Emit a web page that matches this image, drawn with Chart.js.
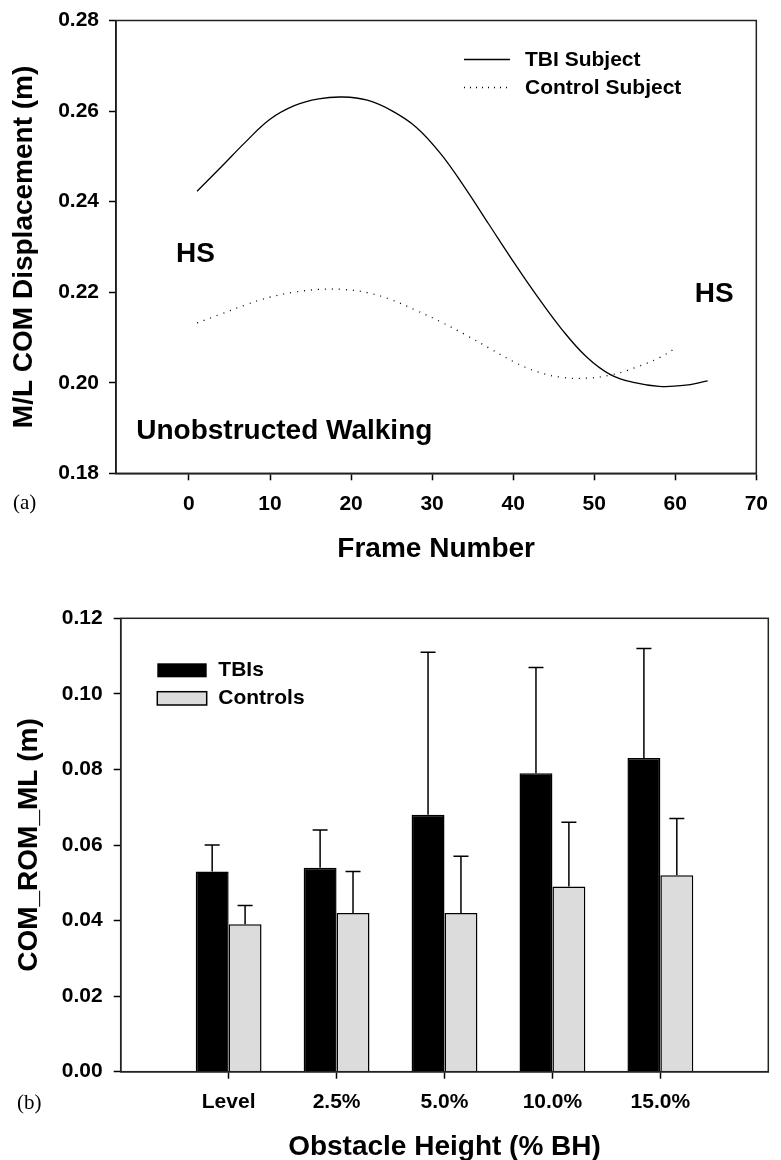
<!DOCTYPE html>
<html>
<head>
<meta charset="utf-8">
<script src="https://cdn.jsdelivr.net/npm/chart.js@4.4.1/dist/chart.umd.min.js"></script>
<style>
  body { margin: 0; background: #fff; }
  .panel { position: relative; width: 781px; height: 580px; }
</style>
</head>
<body>
<div class="panel"><canvas id="comLine"></canvas></div>
<div class="panel"><canvas id="romBars"></canvas></div>
<script>
// (a) M/L COM displacement through one stride, heel strike to heel strike
const tbiFrames = [1, 4, 7, 10, 13, 16, 19, 22, 25, 28, 31, 34, 37, 40, 43, 46, 49, 52, 55, 58, 61, 64];
const tbiDisp = [0.2423, 0.2477, 0.2532, 0.2582, 0.2612, 0.2627, 0.2631, 0.2624, 0.2601, 0.2565, 0.2507,
                 0.2432, 0.2350, 0.2268, 0.2190, 0.2118, 0.2058, 0.2018, 0.2000, 0.1992, 0.1994, 0.2004];
const controlFrames = [1, 4, 7, 10, 13, 16, 19, 22, 25, 28, 31, 34, 37, 40, 43, 46, 49, 52, 55, 58, 60];
const controlDisp = [0.2132, 0.2152, 0.2172, 0.2189, 0.2200, 0.2206, 0.2206, 0.2199, 0.2183, 0.2160, 0.2135,
                     0.2107, 0.2077, 0.2047, 0.2024, 0.2012, 0.2010, 0.2017, 0.2033, 0.2055, 0.2076];
const frameTicks = [0, 10, 20, 30, 40, 50, 60, 70];
const dispTicks = [0.18, 0.20, 0.22, 0.24, 0.26, 0.28];

// (b) COM range of motion (mean + SD) by obstacle height
const heights = ['Level', '2.5%', '5.0%', '10.0%', '15.0%'];
const tbiRom = [0.053, 0.054, 0.068, 0.079, 0.083];
const tbiRomSd = [0.007, 0.010, 0.043, 0.028, 0.029];
const controlRom = [0.039, 0.042, 0.042, 0.049, 0.052];
const controlRomSd = [0.005, 0.011, 0.015, 0.017, 0.015];
const romTicks = [0, 0.02, 0.04, 0.06, 0.08, 0.10, 0.12];

const FONT = "'Liberation Sans', Arial, Helvetica, sans-serif";
const SERIF = "'Liberation Serif', 'Times New Roman', serif";
Chart.defaults.font.family = FONT;
Chart.defaults.color = '#000';

const toPoints = (xs, ys) => xs.map((x, i) => ({ x: x, y: ys[i] }));
const fixTicks = values => scale => { scale.ticks = values.map(v => ({ value: v })); };

const tickFont = { size: 21, weight: 'bold', lineHeight: 1 };
const titleFont = { size: 28, weight: 'bold', lineHeight: 1 };
const axisGrid = {
  drawOnChartArea: false, drawTicks: true, offset: false,
  tickLength: 7, tickWidth: 1.5, tickColor: '#000'
};
const axisBorder = { color: '#000', width: 1.5 };

// closes the plot frame on the top and right
const framePlugin = {
  id: 'frame',
  afterDraw(chart) {
    const { ctx, chartArea: a } = chart;
    ctx.save();
    ctx.strokeStyle = '#222';
    ctx.lineWidth = 1.5;
    ctx.strokeRect(a.left, a.top, a.right - a.left, a.bottom - a.top);
    ctx.restore();
  }
};

const strideNotes = {
  id: 'strideNotes',
  afterDatasetsDraw(chart) {
    const { ctx } = chart;
    const x = chart.scales.x, y = chart.scales.y;
    ctx.save();
    ctx.fillStyle = '#000';
    ctx.textBaseline = 'middle';
    ctx.font = 'bold 28px ' + FONT;
    ctx.textAlign = 'center';
    ctx.fillText('HS', x.getPixelForValue(0.8), y.getPixelForValue(0.2283));
    ctx.fillText('HS', x.getPixelForValue(64.8), y.getPixelForValue(0.2196));
    ctx.textAlign = 'left';
    ctx.fillText('Unobstructed Walking', x.getPixelForValue(-6.5), y.getPixelForValue(0.1893));

    // legend
    ctx.strokeStyle = '#000';
    ctx.lineWidth = 1.3;
    ctx.beginPath();
    ctx.moveTo(464, 59.5); ctx.lineTo(510, 59.5);
    ctx.stroke();
    ctx.setLineDash([1, 5]);
    ctx.beginPath();
    ctx.moveTo(464, 87.5); ctx.lineTo(510, 87.5);
    ctx.stroke();
    ctx.setLineDash([]);
    ctx.font = 'bold 21px ' + FONT;
    ctx.fillText('TBI Subject', 525, 60);
    ctx.fillText('Control Subject', 525, 88);

    ctx.font = '21px ' + SERIF;
    ctx.fillText('(a)', 13, 503);
    ctx.restore();
  }
};

new Chart(document.getElementById('comLine'), {
  type: 'line',
  data: {
    datasets: [
      {
        label: 'TBI Subject',
        data: toPoints(tbiFrames, tbiDisp),
        borderColor: '#000',
        borderWidth: 1.3,
        pointRadius: 0,
        tension: 0.4
      },
      {
        label: 'Control Subject',
        data: toPoints(controlFrames, controlDisp),
        borderColor: '#000',
        borderWidth: 1.3,
        borderDash: [1, 6],
        pointRadius: 0,
        tension: 0.4
      }
    ]
  },
  options: {
    responsive: true,
    maintainAspectRatio: false,
    animation: false,
    events: [],
    layout: { padding: { top: 20, right: 15.3, left: 0, bottom: 0 } },
    plugins: { legend: { display: false }, tooltip: { enabled: false } },
    scales: {
      x: {
        type: 'linear',
        min: -9,
        max: 70,
        afterBuildTicks: fixTicks(frameTicks),
        afterFit: s => { s.height = 106.7; },
        grid: axisGrid,
        border: axisBorder,
        ticks: { font: tickFont, padding: 13, maxRotation: 0, autoSkip: false },
        title: { display: true, text: 'Frame Number', font: titleFont, padding: { top: 0, bottom: 17 } }
      },
      y: {
        min: 0.18,
        max: 0.28,
        afterBuildTicks: fixTicks(dispTicks),
        afterFit: s => { s.width = 116; },
        grid: axisGrid,
        border: axisBorder,
        ticks: { font: tickFont, padding: 10, callback: v => v.toFixed(2) },
        title: { display: true, text: 'M/L COM Displacement (m)', font: titleFont, padding: { top: 10, bottom: 0 } }
      }
    }
  },
  plugins: [framePlugin, strideNotes]
});

// upward SD whiskers on each bar
const errorBars = {
  id: 'errorBars',
  afterDatasetsDraw(chart) {
    const { ctx } = chart;
    const y = chart.scales.y;
    ctx.save();
    ctx.strokeStyle = '#000';
    ctx.lineWidth = 1.5;
    chart.data.datasets.forEach((ds, di) => {
      chart.getDatasetMeta(di).data.forEach((bar, i) => {
        const mean = ds.data[i];
        if (mean == null) return;
        const top = y.getPixelForValue(mean + ds.sd[i]);
        ctx.beginPath();
        ctx.moveTo(bar.x, bar.y);
        ctx.lineTo(bar.x, top);
        ctx.moveTo(bar.x - 7.5, top);
        ctx.lineTo(bar.x + 7.5, top);
        ctx.stroke();
      });
    });
    ctx.restore();
  }
};

const romLegend = {
  id: 'romLegend',
  afterDraw(chart) {
    const { ctx } = chart;
    ctx.save();
    ctx.lineWidth = 1.5;
    ctx.strokeStyle = '#000';
    ctx.fillStyle = '#000';
    ctx.fillRect(157.3, 83.3, 49.4, 14);
    ctx.fillStyle = '#dcdcdc';
    ctx.fillRect(157.3, 111.7, 49.4, 13.3);
    ctx.strokeRect(157.3, 111.7, 49.4, 13.3);
    ctx.fillStyle = '#000';
    ctx.textBaseline = 'middle';
    ctx.textAlign = 'left';
    ctx.font = 'bold 21px ' + FONT;
    ctx.fillText('TBIs', 218.3, 90);
    ctx.fillText('Controls', 218.3, 118.5);
    ctx.font = '21px ' + SERIF;
    ctx.fillText('(b)', 17, 523);
    ctx.restore();
  }
};

// empty slots either side leave a full category gap at each end
const padded = arr => [null, ...arr, null];

new Chart(document.getElementById('romBars'), {
  type: 'bar',
  data: {
    labels: ['', ...heights, ''],
    datasets: [
      {
        label: 'TBIs',
        data: padded(tbiRom),
        sd: padded(tbiRomSd),
        backgroundColor: '#000',
        borderColor: '#000',
        borderWidth: 1.5
      },
      {
        label: 'Controls',
        data: padded(controlRom),
        sd: padded(controlRomSd),
        backgroundColor: '#dcdcdc',
        borderColor: '#000',
        borderWidth: 1.5
      }
    ]
  },
  options: {
    responsive: true,
    maintainAspectRatio: false,
    animation: false,
    events: [],
    barPercentage: 1,
    categoryPercentage: 0.61,
    layout: { padding: { top: 38.3, right: 12.7, left: 0, bottom: 0 } },
    plugins: { legend: { display: false }, tooltip: { enabled: false } },
    scales: {
      x: {
        offset: false,
        afterBuildTicks: s => { s.ticks = s.ticks.filter(t => t.value >= 1 && t.value <= heights.length); },
        afterFit: s => { s.height = 88.3; },
        grid: axisGrid,
        border: axisBorder,
        ticks: { font: tickFont, padding: 12.8, maxRotation: 0, autoSkip: false },
        title: { display: true, text: 'Obstacle Height (% BH)', font: titleFont, padding: { top: 0, bottom: -1 } }
      },
      y: {
        min: 0,
        max: 0.12,
        afterBuildTicks: fixTicks(romTicks),
        afterFit: s => { s.width = 120.7; },
        grid: axisGrid,
        border: axisBorder,
        ticks: { font: tickFont, padding: 11, callback: v => v.toFixed(2) },
        title: { display: true, text: 'COM_ROM_ML (m)', font: titleFont, padding: { top: 15, bottom: 0 } }
      }
    }
  },
  plugins: [framePlugin, errorBars, romLegend]
});
</script>
</body>
</html>
